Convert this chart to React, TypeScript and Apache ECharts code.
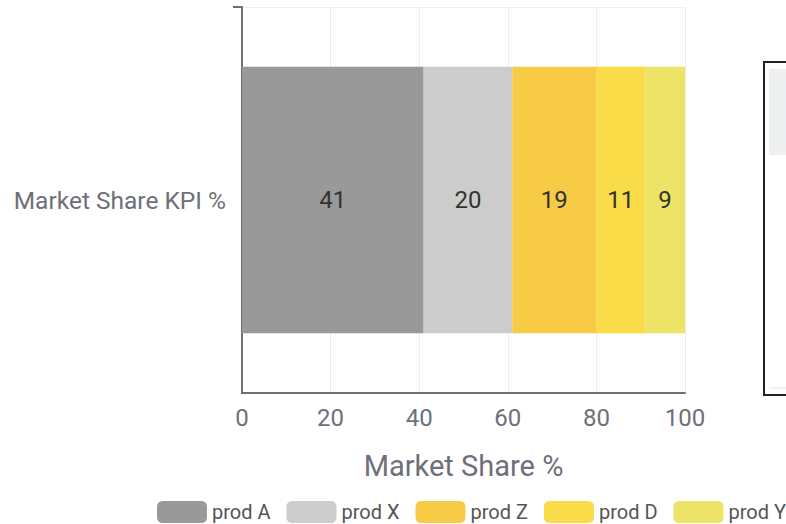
import React, { useEffect, useRef } from "react";
import * as echarts from "echarts";

const categories = ["Market Share KPI %"];
const seriesNames = ["prod A", "prod X", "prod Z", "prod D", "prod Y"];
const seriesValues = [[41], [20], [19], [11], [9]];
const seriesColors = ["#999999", "#cccccc", "#f7cb45", "#f9dc48", "#ede467"];
const xTicks = { min: 0, max: 100, interval: 20 };

export default function App() {
  const ref = useRef<HTMLDivElement>(null);
  useEffect(() => {
    if (!ref.current) return;
    const chart = echarts.init(ref.current, null, { renderer: "svg" });
    chart.setOption({
      animation: false,
      textStyle: { fontFamily: "Roboto" },
      grid: { left: 242, right: 101, top: 7, bottom: 131, containLabel: false },
      legend: {
        bottom: -4,
        left: 152,
        width: 760,
        itemWidth: 50,
        itemHeight: 22,
        itemGap: 16,
        icon: "roundRect",
        textStyle: { fontSize: 20, color: "#555" },
        data: seriesNames,
      },
      xAxis: {
        type: "value",
        min: xTicks.min,
        max: xTicks.max,
        interval: xTicks.interval,
        name: "Market Share %",
        nameLocation: "middle",
        nameGap: 58,
        nameTextStyle: { fontSize: 29, color: "#6e7079" },
        axisLine: { show: true, lineStyle: { color: "#6e7079", width: 2 } },
        axisTick: { show: false },
        axisLabel: { fontSize: 24, color: "#6e7079", margin: 13 },
        splitLine: { show: true, lineStyle: { color: "#ececec" } },
      },
      yAxis: {
        type: "category",
        data: categories,
        inverse: true,
        axisLine: { show: true, lineStyle: { color: "#6e7079", width: 2 } },
        axisTick: { show: false },
        axisLabel: { fontSize: 24.5, color: "#6e7079", margin: 16 },
        splitLine: { show: true, lineStyle: { color: "#f0f0f0" } },
      },
      series: seriesNames.map((name, i) => ({
        name,
        type: "bar",
        stack: "total",
        barWidth: "69%",
        data: seriesValues[i],
        itemStyle: { color: seriesColors[i] },
        label: { show: true, position: "inside", fontSize: 24, color: "#333" },
      })),
      graphic: [
        { type: "line", shape: { x1: 233, y1: 7, x2: 242, y2: 7 }, style: { stroke: "#6e7079", lineWidth: 2 } },
        { type: "rect", shape: { x: 764, y: 62, width: 40, height: 333 }, style: { fill: "#fff", stroke: "#222", lineWidth: 2 } },
        { type: "rect", shape: { x: 769, y: 69, width: 30, height: 86 }, style: { fill: "#eeeff1" } },
        { type: "line", shape: { x1: 769, y1: 388, x2: 790, y2: 388 }, style: { stroke: "#ececec", lineWidth: 1.5 } },
      ],
    });
    return () => chart.dispose();
  }, []);
  return (
    <div
      ref={ref}
      style={{ position: "fixed", left: 0, top: 0, width: 786, height: 524, background: "#fff" }}
    />
  );
}
